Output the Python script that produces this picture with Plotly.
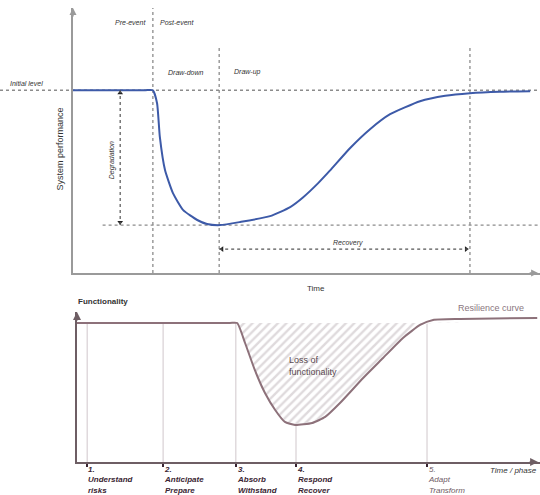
import plotly.graph_objects as go

# ---------------- data ----------------
# Top panel: system performance over time
time_top = [0, 15.5, 17.1, 18.0, 18.6, 19.7, 21.4, 23.6, 26.6, 28.7, 31.5, 35.8, 42.2,
            46.5, 49.3, 52.5, 55.0, 59.3, 63.6, 67.9, 74.3, 79.7, 85.0, 91.4, 97.9]
perf_top = [100, 100, 100, 92.9, 74.3, 56.3, 43.7, 34.4, 29.0, 26.8, 26.2, 27.9, 31.1,
            36.1, 41.5, 49.2, 56.0, 68.3, 78.7, 86.9, 94.0, 97.0, 98.4, 99.2, 99.5]
initial_level = 100
min_level = 26.2
event_time = 17.1
drawup_start = 31.3
recovery_end = 85.0
degradation_x = 10.1
recovery_y = 13.1

# Bottom panel: functionality over phases
time_bot = [0, 33.0, 34.6, 36.3, 38.4, 40.6, 42.8, 44.9, 47.1, 50.8, 53.6, 56.8, 61.8,
            66.1, 70.4, 74.1, 76.9, 82.7, 99.4]
func_bot = [100, 100, 100, 85.6, 66.2, 49.6, 37.4, 28.8, 26.6, 28.1, 32.4, 42.4, 60.4,
            74.8, 89.2, 98.6, 102.2, 102.9, 103.6]
func_level = 100
phase_x = [2.2, 18.6, 34.3, 47.3, 75.6]
phase_labels = ["1.<br>Understand<br>risks", "2.<br>Anticipate<br>Prepare",
                "3.<br>Absorb<br>Withstand", "4.<br>Respond<br>Recover",
                "5.<br>Adapt<br>Transform"]

FONT = "Liberation Sans"
DOT = "#8c8c8c"

fig = go.Figure()

# top curve
fig.add_trace(go.Scatter(x=time_top, y=perf_top, mode="lines",
                         line=dict(color="#3d5aa8", width=2, shape="spline", smoothing=0.5),
                         xaxis="x", yaxis="y", hoverinfo="skip"))

# degradation arrow heads
fig.add_trace(go.Scatter(x=[degradation_x, degradation_x], y=[initial_level - 1.5, min_level + 1.5], mode="markers",
                         marker=dict(symbol=["triangle-up", "triangle-down"], size=5, color="#222"),
                         xaxis="x", yaxis="y", hoverinfo="skip"))
# recovery arrow heads
fig.add_trace(go.Scatter(x=[drawup_start + 0.6, recovery_end - 0.8], y=[recovery_y, recovery_y], mode="markers",
                         marker=dict(symbol=["triangle-left", "triangle-right"], size=5, color="#222"),
                         xaxis="x", yaxis="y", hoverinfo="skip"))

# bottom: hatch fill between curve and level
clipped = [min(v, func_level) for v in func_bot]
fig.add_trace(go.Scatter(x=time_bot, y=clipped, mode="lines",
                         line=dict(width=0, color="rgba(0,0,0,0)", shape="spline", smoothing=0.5),
                         xaxis="x2", yaxis="y2", hoverinfo="skip"))
fig.add_trace(go.Scatter(x=time_bot, y=[func_level] * len(time_bot), mode="lines",
                         line=dict(width=0, color="rgba(0,0,0,0)"), fill="tonexty",
                         fillcolor="rgba(0,0,0,0)",
                         fillpattern=dict(shape="/", fgcolor="#bfb5ba", bgcolor="white", size=6, solidity=0.4),
                         xaxis="x2", yaxis="y2", hoverinfo="skip"))
# bottom curve
fig.add_trace(go.Scatter(x=time_bot, y=func_bot, mode="lines",
                         line=dict(color="#8d717a", width=2, shape="spline", smoothing=0.5),
                         xaxis="x2", yaxis="y2", hoverinfo="skip"))

shapes = []
# top panel dotted guides
shapes.append(dict(type="line", xref="paper", x0=0, x1=1, yref="y", y0=initial_level, y1=initial_level,
                   line=dict(color=DOT, width=1.3, dash="dot"), layer="below"))
shapes.append(dict(type="line", xref="paper", x0=0.19, x1=1, yref="y", y0=min_level, y1=min_level,
                   line=dict(color=DOT, width=1.3, dash="dot"), layer="below"))
shapes.append(dict(type="line", xref="x", x0=event_time, x1=event_time, yref="y", y0=0, y1=146,
                   line=dict(color=DOT, width=1.3, dash="dot"), layer="below"))
for xv in [drawup_start, recovery_end]:
    shapes.append(dict(type="line", xref="x", x0=xv, x1=xv, yref="y", y0=0, y1=124.6,
                       line=dict(color=DOT, width=1.3, dash="dot"), layer="below"))
shapes.append(dict(type="line", xref="x", x0=degradation_x, x1=degradation_x, yref="y", y0=min_level, y1=initial_level,
                   line=dict(color="#555", width=1.2, dash="dot")))
shapes.append(dict(type="line", xref="x", x0=drawup_start, x1=recovery_end, yref="y", y0=recovery_y, y1=recovery_y,
                   line=dict(color="#555", width=1.2, dash="dot")))
# bottom panel phase lines
for xv in phase_x:
    shapes.append(dict(type="line", xref="x2", x0=xv, x1=xv, yref="y2", y0=0, y1=func_level,
                       line=dict(color="#d8d0d4", width=1.2), layer="below"))

ann = []
def txt(text, x, y, xref, yref, size=7, color="#333", italic=True, **kw):
    t = f"<i>{text}</i>" if italic else text
    ann.append(dict(text=t, x=x, y=y, xref=xref, yref=yref, showarrow=False,
                    font=dict(family=FONT, size=size, color=color), **kw))

txt("Pre-event", event_time, 0.966, "x", "paper", xanchor="right", xshift=-5)
txt("Post-event", event_time, 0.966, "x", "paper", xanchor="left", xshift=5)
txt("Draw-down", 24.2, 109.8, "x", "y", xanchor="center")
txt("Draw-up", drawup_start, 109.8, "x", "y", xanchor="left", xshift=13)
txt("Initial level", 0.014, 103.5, "paper", "y", xanchor="left")
txt("Degradation", 8.35, 61.7, "x", "y", textangle=-90, xanchor="center")
txt("Recovery", 58.9, 16.6, "x", "y", xanchor="center")
txt("System performance", 0.111, 0.70, "paper", "paper", size=9, italic=False, textangle=-90,
    xanchor="center", yanchor="middle")
txt("Time", 52, 0.418, "x", "paper", size=8, italic=False, xanchor="center")

txt("<b>Functionality</b>", 0.141, 0.39, "paper", "paper", size=8, italic=False, xanchor="left")
txt("Resilience curve", 0.845, 0.378, "paper", "paper", size=9, italic=False, color="#8a767e", xanchor="left")
txt("Loss of<br>functionality", 45.4, 69, "x2", "y2", size=9, italic=False, color="#5a4a50",
    xanchor="left", align="left")
txt("Time / phase", 0.903, 0.0485, "paper", "paper", size=8, xanchor="left", yanchor="middle")
for i, (xv, lab) in enumerate(zip(phase_x, phase_labels)):
    if i < 4:
        t = f"<b><i>{lab}</i></b>"
        col = "#3a2532"
    else:
        t = f"<i>{lab}</i>"
        col = "#6e5a63"
    ann.append(dict(text=t, x=xv, y=0, xref="x2", yref="paper", showarrow=False,
                    xanchor="left", yanchor="bottom", align="left", borderpad=0, yshift=-1,
                    font=dict(family=FONT, size=8, color=col)))

# axis arrowheads
ann.append(dict(x=0, y=145, xref="x", yref="y", ax=0, ay=10, text="", showarrow=True,
                arrowhead=2, arrowsize=1, arrowwidth=1.4, arrowcolor="#9a9a9a"))
ann.append(dict(x=99.6, y=0, xref="x", yref="y", ax=-10, ay=0, text="", showarrow=True,
                arrowhead=2, arrowsize=1, arrowwidth=1.4, arrowcolor="#9a9a9a"))
ann.append(dict(x=0, y=107.9, xref="x2", yref="y2", ax=0, ay=10, text="", showarrow=True,
                arrowhead=2, arrowsize=1, arrowwidth=1.6, arrowcolor="#6e5e64"))
ann.append(dict(x=99.6, y=0, xref="x2", yref="y2", ax=-10, ay=0, text="", showarrow=True,
                arrowhead=2, arrowsize=1, arrowwidth=1.6, arrowcolor="#6e5e64"))

fig.update_layout(
    width=540, height=495, autosize=False,
    margin=dict(l=0, r=0, t=0, b=0),
    paper_bgcolor="white", plot_bgcolor="white",
    showlegend=False,
    font=dict(family=FONT),
    shapes=shapes, annotations=ann,
    xaxis=dict(domain=[0.1352, 1.0], range=[0, 100], showline=True, linecolor="#9a9a9a", linewidth=1.5,
               showgrid=False, zeroline=False, showticklabels=False, ticks="", fixedrange=True),
    yaxis=dict(domain=[0.4485, 0.9838], range=[0, 145], showline=True, linecolor="#9a9a9a", linewidth=1.5,
               showgrid=False, zeroline=False, showticklabels=False, ticks="", fixedrange=True),
    xaxis2=dict(domain=[0.1426, 1.0], range=[0, 100], showline=True, linecolor="#6e5e64", linewidth=2,
                showgrid=False, zeroline=False, showticklabels=False, ticks="outside", ticklen=3,
                tickcolor="#3a2532", tickwidth=1.5, tickvals=phase_x, anchor="y2", fixedrange=True),
    yaxis2=dict(domain=[0.0667, 0.3697], range=[0, 107.9], showline=True, linecolor="#6e5e64", linewidth=2,
                showgrid=False, zeroline=False, showticklabels=False, ticks="", anchor="x2", fixedrange=True),
)

fig.write_html("out.html", config={"displayModeBar": False},
               post_script="document.body.style.margin='0';document.body.style.overflow='hidden';")
